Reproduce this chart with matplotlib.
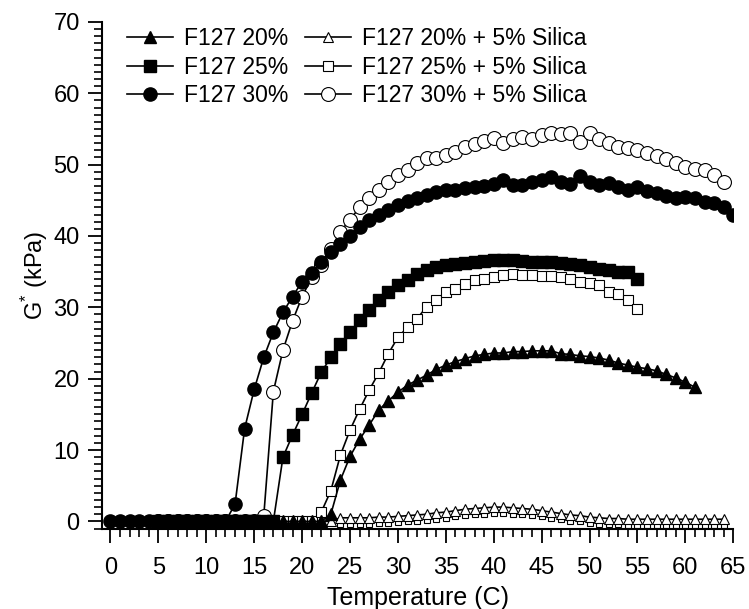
import numpy as np
import matplotlib.pyplot as plt
from matplotlib.ticker import MultipleLocator

plt.rcParams['font.family'] = ['Liberation Sans', 'DejaVu Sans']
plt.rcParams['mathtext.fontset'] = 'custom'
plt.rcParams['mathtext.rm'] = 'Liberation Sans'

#Temperature (C) and G* (kPa)
t_20 = list(range(5, 62))
g_20 = [0]*18 + [1.0, 5.8, 9.1, 11.5, 13.5, 15.6, 16.9, 18.1, 19.1, 19.8,
                 20.5, 21.3, 21.9, 22.4, 22.8, 23.2, 23.4, 23.6, 23.6, 23.8,
                 23.8, 23.9, 23.9, 23.9, 23.5, 23.4, 23.2, 23.1, 22.9, 22.6,
                 22.2, 21.9, 21.6, 21.4, 21.1, 20.6, 20.1, 19.5, 18.8]

t_25 = list(range(5, 56))
g_25 = [0]*13 + [9.0, 12.1, 15.0, 18.0, 20.9, 23.0, 24.9, 26.5, 28.2, 29.6,
                 31.0, 32.2, 33.1, 33.8, 34.7, 35.2, 35.7, 35.9, 36.1, 36.2,
                 36.4, 36.5, 36.6, 36.6, 36.6, 36.5, 36.4, 36.4, 36.4, 36.2,
                 36.1, 35.9, 35.7, 35.4, 35.2, 35.0, 35.0, 34.0]

t_30 = list(range(0, 66))
g_30 = [0]*13 + [2.4, 13.0, 18.5, 23.0, 26.5, 29.3, 31.5, 33.6, 34.8, 36.4,
                 37.8, 38.9, 40.0, 41.2, 42.3, 43.0, 43.7, 44.3, 44.9, 45.3,
                 45.8, 46.2, 46.4, 46.5, 46.7, 46.9, 47.0, 47.3, 47.8, 47.2,
                 47.1, 47.5, 47.8, 48.3, 47.6, 47.3, 48.4, 47.5, 47.2, 47.4,
                 46.8, 46.5, 46.9, 46.3, 46.0, 45.6, 45.3, 45.4, 45.3, 44.8,
                 44.6, 44.0, 42.9]

t_20_si = list(range(5, 65))
g_20_si = [0]*19 + [0.5, 0.5, 0.5, 0.5, 0.6, 0.6, 0.7, 0.8, 0.9, 1.0,
                    1.2, 1.3, 1.5, 1.7, 1.8, 1.9, 2.0, 2.0, 1.9, 1.8,
                    1.7, 1.5, 1.3, 1.1, 0.9, 0.8, 0.6, 0.5, 0.4, 0.4,
                    0.3, 0.3, 0.3, 0.3, 0.3, 0.3, 0.3, 0.3, 0.3, 0.3, 0.3]

#lower row of open squares under the 20% + silica triangles
t_base = list(range(24, 65))
g_base = [-0.3, -0.3, -0.3, -0.3, -0.2, -0.2, -0.1, 0.0, 0.1, 0.2,
          0.4, 0.5, 0.7, 0.9, 1.0, 1.1, 1.2, 1.2, 1.1, 1.0,
          0.9, 0.7, 0.5, 0.3, 0.1, 0.0, -0.2, -0.3, -0.4, -0.4,
          -0.5, -0.5, -0.5, -0.5, -0.5, -0.5, -0.5, -0.5, -0.5, -0.5, -0.5]

t_25_si = list(range(5, 56))
g_25_si = [0]*17 + [1.3, 4.3, 9.3, 12.8, 15.7, 18.4, 20.8, 23.5, 25.8, 27.2,
                    28.4, 30.1, 31.0, 32.2, 32.6, 33.3, 33.8, 34.0, 34.2, 34.5,
                    34.7, 34.6, 34.5, 34.4, 34.4, 34.3, 34.0, 33.6, 33.4, 33.1,
                    32.2, 31.9, 31.0, 29.7]

t_30_si = list(range(5, 65))
g_30_si = [0]*11 + [0.8, 18.2, 24.0, 28.1, 31.5, 34.2, 35.9, 38.2, 40.6, 42.3,
                    44.0, 45.3, 46.5, 47.6, 48.5, 49.3, 50.2, 50.9, 50.9, 51.3,
                    51.8, 52.4, 52.9, 53.3, 53.7, 53.0, 53.6, 53.9, 53.6, 54.1,
                    54.4, 54.3, 54.4, 53.2, 54.4, 53.6, 53.0, 52.5, 52.3, 52.0,
                    51.6, 51.2, 50.8, 50.2, 49.7, 49.4, 49.2, 48.5, 47.6]

fig = plt.figure(figsize=(7.49, 6.09), dpi=100)
ax = fig.add_axes([0.136, 0.131, 0.843, 0.833])

lw = 1.2
#open (silica) series drawn first, filled ones on top
ax.plot(t_base, g_base, 's', color='black', mfc='white', mew=0.8, ms=5, zorder=2)
ax.plot(t_20_si, g_20_si, '-^', color='black', mfc='white', mew=0.8, ms=7, lw=lw, zorder=2)
ax.plot(t_25_si, g_25_si, '-s', color='black', mfc='white', mew=0.8, ms=7, lw=lw, zorder=2)
ax.plot(t_30_si, g_30_si, '-o', color='black', mfc='white', mew=0.8, ms=10, lw=lw, zorder=2)
ax.plot(t_20, g_20, '-^', color='black', ms=9, lw=lw, zorder=3)
ax.plot(t_25, g_25, '-s', color='black', ms=8.5, lw=lw, zorder=3)
ax.plot(t_30, g_30, '-o', color='black', ms=9.5, lw=lw, zorder=3)

#legend handles in the order of the figure
lines = ax.get_lines()
handles = [lines[4], lines[5], lines[6], lines[1], lines[2], lines[3]]
labels = ['F127 20%', 'F127 25%', 'F127 30%',
          'F127 20% + 5% Silica', 'F127 25% + 5% Silica', 'F127 30% + 5% Silica']
ax.legend(handles, labels, ncol=2, frameon=False, fontsize=16.5,
          loc='upper left', bbox_to_anchor=(0.04, 0.99), borderpad=0,
          borderaxespad=0, labelspacing=0.25, handlelength=2.0,
          handletextpad=0.5, columnspacing=0.7)

ax.set_xlim(-0.9, 65)
ax.set_ylim(-1.1, 70)
ax.xaxis.set_major_locator(MultipleLocator(5))
ax.xaxis.set_minor_locator(MultipleLocator(1))
ax.yaxis.set_major_locator(MultipleLocator(10))
ax.yaxis.set_minor_locator(MultipleLocator(1))
ax.tick_params(which='major', length=10, width=1.3, labelsize=17)
ax.tick_params(axis='x', which='major', pad=10)
ax.tick_params(axis='y', which='major', pad=6)
ax.tick_params(which='minor', length=6, width=1.2)

ax.spines['top'].set_visible(False)
ax.spines['right'].set_visible(False)
ax.spines['left'].set_linewidth(1.5)
ax.spines['bottom'].set_linewidth(1.5)

ax.set_xlabel('Temperature (C)', fontsize=18, labelpad=5)
ax.set_ylabel(r'G$^{*}$ (kPa)', fontsize=17, labelpad=2)

plt.savefig('out.png', dpi=100)
